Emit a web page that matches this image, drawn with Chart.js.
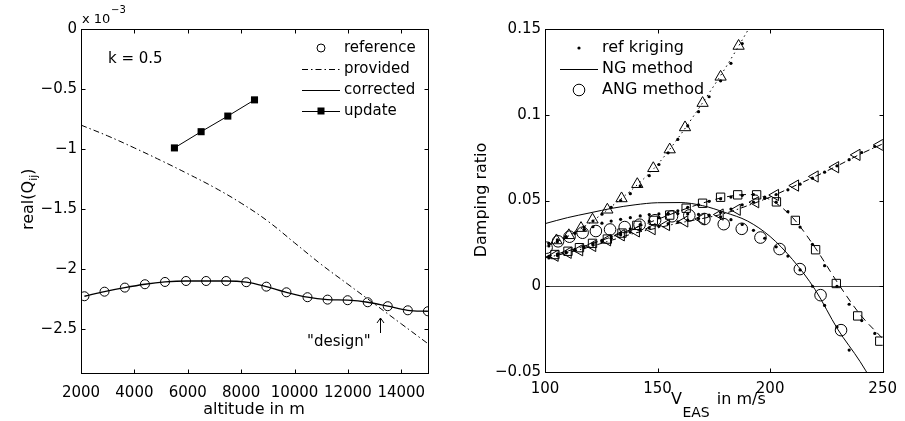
<!DOCTYPE html>
<html>
<head>
<meta charset="utf-8">
<script src="https://cdn.jsdelivr.net/npm/chart.js@4.4.1/dist/chart.umd.min.js"></script>
<style>
  html, body { margin: 0; padding: 0; background: #fff; }
  #wrap { position: relative; width: 905px; height: 421px; }
  #leftChart { position: absolute; left: 0; top: 0; }
  #rightChart { position: absolute; left: 450px; top: 0; }
</style>
</head>
<body>
<div id="wrap">
  <canvas id="leftChart" width="450" height="421"></canvas>
  <canvas id="rightChart" width="455" height="421"></canvas>
</div>
<script>
// ---------- left panel: real(Q_ij) vs altitude, values in units of 1e-3 ----------
const altRef = [2128, 2880, 3643, 4395, 5147, 5936, 6688, 7440, 8192, 8944, 9696, 10485, 11237, 11989, 12741, 13492, 14244, 14996];
const qRef = [-2.225, -2.187, -2.153, -2.125, -2.106, -2.098, -2.098, -2.098, -2.108, -2.145, -2.192, -2.233, -2.253, -2.258, -2.275, -2.308, -2.342, -2.350];
const qCorrected = [-2.225, -2.187, -2.153, -2.125, -2.106, -2.098, -2.098, -2.098, -2.108, -2.145, -2.192, -2.233, -2.253, -2.258, -2.275, -2.308, -2.342, -2.350];
const altProvided = [2000, 3000, 4000, 5000, 6000, 7000, 8000, 9000, 10000, 11000, 12000, 13000, 14000, 15000];
const qProvided = [-0.80, -0.89, -0.99, -1.095, -1.205, -1.32, -1.45, -1.60, -1.78, -1.96, -2.125, -2.29, -2.455, -2.62];
const altUpdate = [5500, 6500, 7500, 8500];
const qUpdate = [-0.99, -0.855, -0.725, -0.59];
const altTicks = [2000, 4000, 6000, 8000, 10000, 12000, 14000];
const qTicks = [-2.5, -2, -1.5, -1, -0.5, 0];

// ---------- right panel: damping ratio vs V_EAS ----------
// NG method lines (one per mode)
const vNG = [100, 110, 120, 130, 140, 150, 160, 170, 180, 190, 200, 210, 220, 230, 240, 250];
const zNG1 = [0.0365, 0.0400, 0.0428, 0.0455, 0.0475, 0.0487, 0.0488, 0.0470, 0.0430, 0.0380, 0.0290, 0.0155, -0.0020, -0.0250, -0.0440, -0.0660];
const zNG2 = [0.0170, 0.0205, 0.0245, 0.0290, 0.0340, 0.0390, 0.0440, 0.0485, 0.0520, 0.0535, 0.0505, 0.0400, 0.0225, 0.0020, -0.0165, -0.0305];
const zNG3 = [0.0230, 0.0290, 0.0370, 0.0470, 0.0580, 0.0710, 0.0880, 0.1070, 0.1270, 0.1490, 0.1720, null, null, null, null, null];
const zNG4 = [0.0165, 0.0195, 0.0230, 0.0270, 0.0310, 0.0340, 0.0370, 0.0395, 0.0425, 0.0470, 0.0520, 0.0580, 0.0640, 0.0703, 0.0770, 0.0830];

// ANG method markers
const vANG1 = [100.7, 105.8, 110.9, 116.7, 122.6, 128.9, 135.4, 142.0, 148.9, 156.4, 164.1, 170.8, 179.4, 187.4, 195.7, 204.2, 213.2, 222.4, 231.5];
const zANG1 = [0.0225, 0.0262, 0.0289, 0.0312, 0.0322, 0.0331, 0.0345, 0.0359, 0.0385, 0.0408, 0.0413, 0.0392, 0.0362, 0.0335, 0.0284, 0.0217, 0.0100, -0.0052, -0.0256];
const vANG2 = [104.4, 110.2, 115.3, 121.1, 127.7, 134.2, 140.8, 148.1, 155.4, 162.7, 170.0, 178.0, 185.6, 194.0, 202.8, 211.2, 220.2, 229.4, 238.9, 248.7];
const zANG2 = [0.0185, 0.0204, 0.0225, 0.0250, 0.0275, 0.0310, 0.0355, 0.0384, 0.0415, 0.0455, 0.0484, 0.0519, 0.0533, 0.0533, 0.0492, 0.0384, 0.0213, 0.0016, -0.0173, -0.0320];
const vANG3 = [105.1, 110.6, 116.0, 121.1, 127.7, 134.0, 141.0, 148.1, 155.4, 162.2, 170.0, 178.0, 186.0];
const zANG3 = [0.0267, 0.0297, 0.0339, 0.0388, 0.0446, 0.0512, 0.0595, 0.0688, 0.0797, 0.0926, 0.1068, 0.1221, 0.1401];
const vANG4 = [104.4, 110.2, 115.3, 121.1, 127.7, 133.8, 140.5, 147.5, 153.9, 162.0, 169.5, 177.7, 185.3, 193.5, 202.3, 211.2, 219.9, 229.0, 238.5, 248.7];
const zANG4 = [0.0178, 0.0195, 0.0210, 0.0235, 0.0268, 0.0297, 0.0320, 0.0333, 0.0357, 0.0378, 0.0392, 0.0418, 0.0446, 0.0490, 0.0532, 0.0587, 0.0640, 0.0694, 0.0766, 0.0824];

// reference kriging dots (same speeds for all four modes)
const vKrig = [101.7, 105.5, 109.4, 113.3, 117.3, 121.3, 125.3, 129.4, 133.6, 137.9, 142.3, 146.3, 150.6, 154.7, 159.0, 163.4, 168.2, 172.9, 178.0, 182.6, 187.6, 192.6, 197.6, 202.7, 207.9, 213.3, 218.8, 224.2, 229.7, 235.1, 240.7, 246.5];
const zKrig1 = [0.0250, 0.0270, 0.0290, 0.0310, 0.0330, 0.0347, 0.0368, 0.0380, 0.0390, 0.0400, 0.0410, 0.0418, 0.0422, 0.0424, 0.0424, 0.0422, 0.0419, 0.0415, 0.0405, 0.0388, 0.0360, 0.0326, 0.0280, 0.0230, 0.0176, 0.0095, 0.0000, -0.0112, -0.0237, -0.0372, null, null];
const zKrig2 = [0.0175, 0.0188, 0.0200, 0.0215, 0.0230, 0.0248, 0.0268, 0.0290, 0.0310, 0.0335, 0.0360, 0.0380, 0.0400, 0.0420, 0.0440, 0.0460, 0.0475, 0.0495, 0.0510, 0.0520, 0.0530, 0.0535, 0.0520, 0.0490, 0.0435, 0.0345, 0.0245, 0.0120, 0.0000, -0.0105, -0.0200, -0.0275];
const zKrig3 = [0.0235, 0.0260, 0.0285, 0.0310, 0.0345, 0.0380, 0.0420, 0.0460, 0.0500, 0.0540, 0.0585, 0.0645, 0.0710, 0.0778, 0.0856, 0.0935, 0.1018, 0.1105, 0.1198, 0.1300, 0.1415, null, null, null, null, null, null, null, null, null, null, null];
const zKrig4 = [0.0165, 0.0180, 0.0195, 0.0210, 0.0225, 0.0240, 0.0260, 0.0280, 0.0300, 0.0315, 0.0330, 0.0340, 0.0350, 0.0365, 0.0375, 0.0385, 0.0395, 0.0410, 0.0430, 0.0450, 0.0475, 0.0490, 0.0512, 0.0535, 0.0562, 0.0595, 0.0630, 0.0665, 0.0702, 0.0738, 0.0780, 0.0815];

const vTicks = [100, 150, 200, 250];
const zTicks = [-0.05, 0, 0.05, 0.1, 0.15];

const FONT = "'DejaVu Sans', sans-serif";
const tickFont = { family: FONT, size: 15 };

function pts(xs, ys) {
  return xs.map((x, i) => ({ x: x, y: ys[i] }));
}

function minusFmt(v) {
  const s = String(+Math.abs(v).toFixed(3));
  return v < 0 ? '\u2212' + s : s;
}

// inward tick marks on all four sides plus the axes box
function boxTicks(xTicks, yTicks) {
  return {
    id: 'boxTicks',
    afterDatasetsDraw(chart) {
      const { ctx, chartArea: a, scales: { x, y } } = chart;
      const L = Math.round(a.left) + 0.5, R = Math.round(a.right) + 0.5;
      const T = Math.round(a.top) + 0.5, B = Math.round(a.bottom) + 0.5;
      ctx.save();
      ctx.strokeStyle = '#000';
      ctx.lineWidth = 1;
      ctx.beginPath();
      xTicks.forEach(v => {
        const px = Math.round(x.getPixelForValue(v)) + 0.5;
        ctx.moveTo(px, B); ctx.lineTo(px, B - 4);
        ctx.moveTo(px, T); ctx.lineTo(px, T + 4);
      });
      yTicks.forEach(v => {
        const py = Math.round(y.getPixelForValue(v)) + 0.5;
        ctx.moveTo(L, py); ctx.lineTo(L + 4, py);
        ctx.moveTo(R, py); ctx.lineTo(R - 4, py);
      });
      ctx.stroke();
      ctx.strokeRect(L, T, R - L, B - T);
      ctx.restore();
    }
  };
}

function fixedTicks(list) {
  return s => { s.ticks = list.map(v => ({ value: v })); };
}

// ---------- left chart ----------
const leftDecor = {
  id: 'leftDecor',
  afterDraw(chart) {
    const ctx = chart.ctx;
    ctx.save();
    ctx.fillStyle = '#000';
    ctx.strokeStyle = '#000';
    ctx.lineWidth = 1;
    ctx.textAlign = 'left';
    ctx.textBaseline = 'alphabetic';

    // exponent
    ctx.font = '13px ' + FONT;
    ctx.fillText('x 10', 82, 23);
    ctx.font = '10px ' + FONT;
    ctx.fillText('\u22123', 111, 13);

    // y title
    ctx.save();
    ctx.translate(33, 230);
    ctx.rotate(-Math.PI / 2);
    ctx.font = '16px ' + FONT;
    ctx.fillText('real(Q', 0, 0);
    let w = ctx.measureText('real(Q').width;
    ctx.font = '11px ' + FONT;
    ctx.fillText('ij', w, 4);
    w += ctx.measureText('ij').width;
    ctx.font = '16px ' + FONT;
    ctx.fillText(')', w, 0);
    ctx.restore();

    // x title
    ctx.font = '16px ' + FONT;
    ctx.textAlign = 'center';
    ctx.fillText('altitude in m', 254, 414);

    // annotations
    ctx.textAlign = 'left';
    ctx.font = '15px ' + FONT;
    ctx.textBaseline = 'middle';
    ctx.fillText('k = 0.5', 108, 59);
    ctx.textBaseline = 'alphabetic';
    ctx.fillText('"design"', 307, 346);
    ctx.beginPath();
    ctx.moveTo(380.5, 333); ctx.lineTo(380.5, 318);
    ctx.moveTo(377, 323); ctx.lineTo(380.5, 318); ctx.lineTo(384, 323);
    ctx.stroke();

    // legend
    const lx1 = 302, lx2 = 340, mx = 321;
    const rows = [48, 69, 90, 111];
    ctx.textBaseline = 'middle';
    ['reference', 'provided', 'corrected', 'update'].forEach((t, i) => ctx.fillText(t, 344, rows[i]));
    ctx.beginPath();
    ctx.arc(mx, rows[0], 4, 0, Math.PI * 2);
    ctx.stroke();
    ctx.setLineDash([6, 3, 1.5, 3]);
    ctx.beginPath(); ctx.moveTo(lx1, rows[1] + 0.5); ctx.lineTo(lx2, rows[1] + 0.5); ctx.stroke();
    ctx.setLineDash([]);
    ctx.beginPath(); ctx.moveTo(lx1, rows[2] + 0.5); ctx.lineTo(lx2, rows[2] + 0.5); ctx.stroke();
    ctx.beginPath(); ctx.moveTo(lx1, rows[3] + 0.5); ctx.lineTo(lx2, rows[3] + 0.5); ctx.stroke();
    ctx.fillRect(mx - 3.5, rows[3] - 3.5, 7, 7);
    ctx.restore();
  }
};

new Chart(document.getElementById('leftChart'), {
  type: 'scatter',
  data: {
    datasets: [
      {
        label: 'reference',
        data: pts(altRef, qRef),
        showLine: false,
        pointStyle: 'circle',
        pointRadius: 4.5,
        pointBorderWidth: 1,
        pointBorderColor: '#000',
        pointBackgroundColor: 'rgba(0,0,0,0)'
      },
      {
        label: 'provided',
        data: pts(altProvided, qProvided),
        showLine: true,
        borderColor: '#000',
        borderWidth: 1,
        borderDash: [6, 3, 1.5, 3],
        tension: 0.4,
        pointRadius: 0
      },
      {
        label: 'corrected',
        data: pts(altRef, qCorrected),
        showLine: true,
        borderColor: '#000',
        borderWidth: 1.3,
        cubicInterpolationMode: 'monotone',
        pointRadius: 0
      },
      {
        label: 'update',
        data: pts(altUpdate, qUpdate),
        showLine: true,
        borderColor: '#000',
        borderWidth: 1,
        pointStyle: 'rect',
        pointRadius: 5,
        pointBorderWidth: 0,
        pointBackgroundColor: '#000'
      }
    ]
  },
  options: {
    responsive: false,
    animation: false,
    layout: { padding: { top: 29, right: 22, left: 0, bottom: 0 } },
    plugins: { legend: { display: false }, tooltip: { enabled: false } },
    scales: {
      x: {
        type: 'linear',
        min: 2000,
        max: 15000,
        afterBuildTicks: fixedTicks(altTicks),
        afterFit: s => { s.height = 48; },
        grid: { display: false, drawTicks: false },
        border: { display: false },
        ticks: { font: tickFont, color: '#000', padding: 11, maxRotation: 0, autoSkip: false, callback: v => String(v) }
      },
      y: {
        type: 'linear',
        min: -2.864,
        max: 0,
        afterBuildTicks: fixedTicks(qTicks),
        afterFit: s => { s.width = 81; },
        grid: { display: false, drawTicks: false },
        border: { display: false },
        ticks: { font: tickFont, color: '#000', padding: 4, autoSkip: false, callback: v => minusFmt(v) }
      }
    }
  },
  plugins: [boxTicks(altTicks, qTicks), leftDecor]
});

// ---------- right chart ----------
const zeroLine = {
  id: 'zeroLine',
  beforeDatasetsDraw(chart) {
    const { ctx, chartArea: a, scales: { y } } = chart;
    const py = Math.round(y.getPixelForValue(0)) + 0.5;
    ctx.save();
    ctx.strokeStyle = '#444';
    ctx.lineWidth = 1;
    ctx.beginPath();
    ctx.moveTo(a.left, py); ctx.lineTo(a.right, py);
    ctx.stroke();
    ctx.restore();
  }
};

const rightDecor = {
  id: 'rightDecor',
  afterDraw(chart) {
    const ctx = chart.ctx;
    ctx.save();
    ctx.fillStyle = '#000';
    ctx.strokeStyle = '#000';
    ctx.lineWidth = 1;
    ctx.textAlign = 'left';
    ctx.textBaseline = 'alphabetic';

    // y title
    ctx.save();
    ctx.translate(36, 200);
    ctx.rotate(-Math.PI / 2);
    ctx.font = '16px ' + FONT;
    ctx.textAlign = 'center';
    ctx.fillText('Damping ratio', 0, 0);
    ctx.restore();

    // x title with subscript
    ctx.font = '16px ' + FONT;
    ctx.fillText('V', 221, 404);
    let x = 221 + ctx.measureText('V').width + 0.5;
    ctx.font = '14px ' + FONT;
    ctx.fillText('EAS', x, 416.5);
    x += ctx.measureText('EAS').width + 7;
    ctx.font = '16px ' + FONT;
    ctx.fillText('in m/s', x, 404);

    // legend
    const rows = [48, 69, 90];
    ctx.font = '16px ' + FONT;
    ctx.textBaseline = 'middle';
    ['ref kriging', 'NG method', 'ANG method'].forEach((t, i) => ctx.fillText(t, 152, rows[i]));
    ctx.beginPath();
    ctx.arc(129, rows[0], 1.6, 0, Math.PI * 2);
    ctx.fill();
    ctx.beginPath();
    ctx.moveTo(110, rows[1] + 0.5); ctx.lineTo(148, rows[1] + 0.5);
    ctx.stroke();
    ctx.beginPath();
    ctx.arc(129, rows[2], 5.8, 0, Math.PI * 2);
    ctx.stroke();
    ctx.restore();
  }
};

const hollow = 'rgba(0,0,0,0)';
function ngLine(ys, dash) {
  return {
    data: pts(vNG, ys),
    showLine: true,
    borderColor: '#000',
    borderWidth: 1,
    borderDash: dash,
    cubicInterpolationMode: 'monotone',
    pointRadius: 0
  };
}
function angMarks(xs, ys, style, radius, rotation) {
  return {
    data: pts(xs, ys),
    showLine: false,
    pointStyle: style,
    pointRadius: radius,
    pointRotation: rotation || 0,
    pointBorderWidth: 1,
    pointBorderColor: '#000',
    pointBackgroundColor: hollow
  };
}

const krigPoints = [].concat(pts(vKrig, zKrig1), pts(vKrig, zKrig2), pts(vKrig, zKrig3), pts(vKrig, zKrig4))
  .filter(p => p.y !== null);

new Chart(document.getElementById('rightChart'), {
  type: 'scatter',
  data: {
    datasets: [
      {
        label: 'ref kriging',
        data: krigPoints,
        showLine: false,
        pointStyle: 'circle',
        pointRadius: 1.6,
        pointBorderWidth: 0,
        pointBackgroundColor: '#000'
      },
      ngLine(zNG1, []),
      ngLine(zNG2, [7, 5]),
      ngLine(zNG3, [1.5, 3.5]),
      ngLine(zNG4, [6, 3, 1.5, 3]),
      angMarks(vANG1, zANG1, 'circle', 5.8),
      angMarks(vANG2, zANG2, 'rect', 5.9),
      angMarks(vANG3, zANG3, 'triangle', 6.5),
      angMarks(vANG4, zANG4, 'triangle', 6.5, -90)
    ]
  },
  options: {
    responsive: false,
    animation: false,
    layout: { padding: { top: 29, right: 17, left: 0, bottom: 0 } },
    plugins: { legend: { display: false }, tooltip: { enabled: false } },
    scales: {
      x: {
        type: 'linear',
        min: 100,
        max: 250,
        afterBuildTicks: fixedTicks(vTicks),
        afterFit: s => { s.height = 49; },
        grid: { display: false, drawTicks: false },
        border: { display: false },
        ticks: { font: tickFont, color: '#000', padding: 8, maxRotation: 0, autoSkip: false, callback: v => String(v) }
      },
      y: {
        type: 'linear',
        min: -0.05,
        max: 0.15,
        afterBuildTicks: fixedTicks(zTicks),
        afterFit: s => { s.width = 95; },
        grid: { display: false, drawTicks: false },
        border: { display: false },
        ticks: { font: tickFont, color: '#000', padding: 4, autoSkip: false, callback: v => minusFmt(v) }
      }
    }
  },
  plugins: [zeroLine, boxTicks(vTicks, zTicks), rightDecor]
});
</script>
</body>
</html>
